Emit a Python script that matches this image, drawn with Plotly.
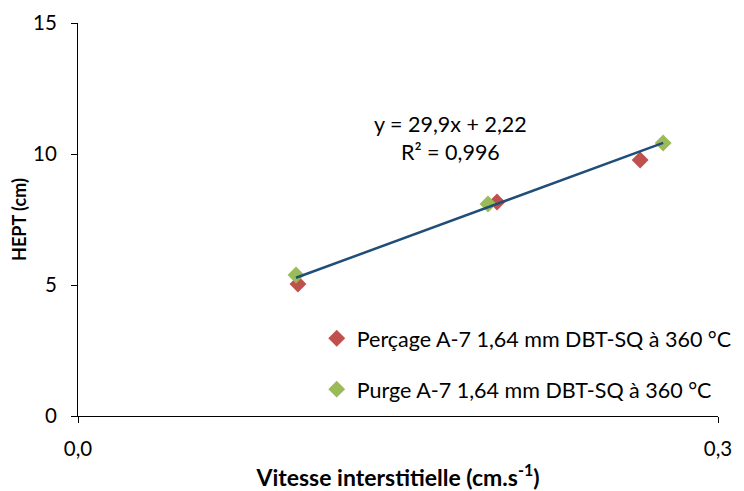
import plotly.graph_objects as go

# Measured points (interstitial velocity in cm/s, HEPT in cm)
percage_x = [0.1031, 0.1964, 0.2635]
percage_y = [5.04, 8.17, 9.77]
purge_x = [0.1022, 0.1922, 0.2743]
purge_y = [5.38, 8.09, 10.42]

# Linear trend fitted on the purge series
slope = 29.9
intercept = 2.22
r2 = 0.996

x_ticks = [0.0, 0.3]
x_tick_text = ["0,0", "0,3"]
y_ticks = [0, 5, 10, 15]

FONT = "Lato, Open Sans, sans-serif"
RED = "#C0504D"
GREEN = "#9BBB59"
BLUE = "#1F4E79"


def fr(v):
    return str(v).replace(".", ",")


fig = go.Figure()

trend_x = [min(purge_x), max(purge_x)]
trend_y = [slope * v + intercept for v in trend_x]

fig.add_trace(go.Scatter(
    x=percage_x, y=percage_y, mode="markers",
    name="Perçage A-7 1,64 mm DBT-SQ à 360 °C",
    marker=dict(symbol="diamond", size=13, color=RED),
    legendgroup="a",
))
fig.add_trace(go.Scatter(
    x=purge_x, y=purge_y, mode="markers",
    name="Purge A-7 1,64 mm DBT-SQ à 360 °C",
    marker=dict(symbol="diamond", size=13, color=GREEN),
    legendgroup="b",
))
fig.add_trace(go.Scatter(
    x=trend_x, y=trend_y, mode="lines",
    line=dict(color=BLUE, width=2.5),
    showlegend=False, hoverinfo="skip",
))

fig.add_annotation(
    x=0.1744, y=10.62, xref="x", yref="y",
    text=f"y = {fr(slope)}x + {fr(intercept)}<br>R² = {fr(r2)}",
    showarrow=False, align="center",
    font=dict(family=FONT, size=21.5, color="#000000"),
)

fig.update_layout(
    width=744, height=491,
    margin=dict(l=78, r=26, t=23, b=75, autoexpand=False),
    paper_bgcolor="white", plot_bgcolor="white",
    font=dict(family=FONT, size=21, color="#000000"),
    showlegend=True,
    legend=dict(
        x=0.373, y=0.25, xanchor="left", yanchor="top",
        font=dict(family=FONT, size=21.5, color="#000000"),
        traceorder="grouped", tracegroupgap=20,
        bgcolor="rgba(0,0,0,0)",
    ),
    xaxis=dict(
        range=[0, 0.3], tickvals=x_ticks, ticktext=x_tick_text,
        showgrid=False, zeroline=False, showline=True,
        linecolor="#000000", linewidth=1,
        ticks="outside", ticklen=6, tickcolor="#000000",
        ticklabelstandoff=8, automargin=False,
        tickfont=dict(family=FONT, size=20.5),
        title=dict(text="<b>Vitesse interstitielle (cm.s<sup>-1</sup>)</b>",
                   font=dict(family=FONT, size=23), standoff=11),
    ),
    yaxis=dict(
        range=[0, 15], tickvals=y_ticks,
        showgrid=False, zeroline=False, showline=True,
        linecolor="#000000", linewidth=1,
        ticks="outside", ticklen=6, tickcolor="#000000",
        ticklabelstandoff=10, automargin=False,
        tickfont=dict(family=FONT, size=20.5),
        title=dict(text="<b>HEPT (cm)</b>",
                   font=dict(family=FONT, size=18), standoff=1),
    ),
)

fig.write_html("out.html")
